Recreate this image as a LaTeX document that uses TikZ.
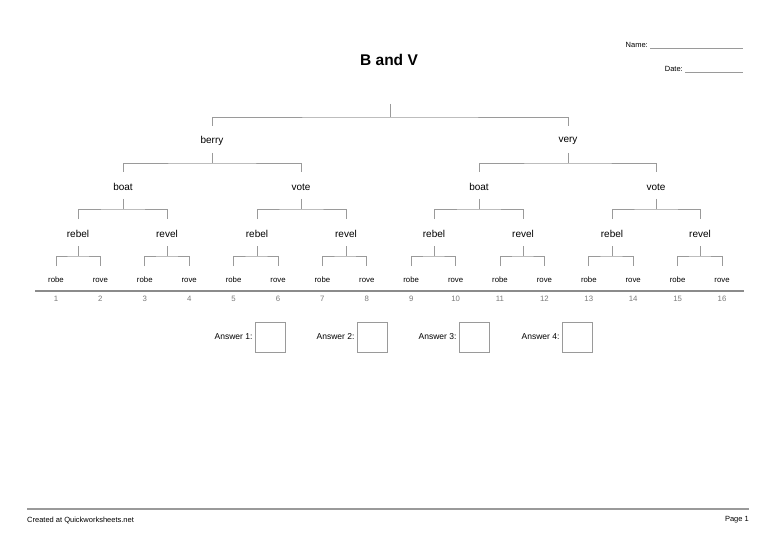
\documentclass[tikz,border=0pt]{standalone}
\usepackage{fontspec}
\setmainfont{Liberation Sans}
\usetikzlibrary{calc}
\definecolor{ln}{HTML}{9A9A9A}
\definecolor{num}{HTML}{7A7A7A}
\tikzset{
  lvl/.style={font=\fontsize{10}{12}\selectfont, inner sep=0pt},
  leaf/.style={font=\fontsize{7.8}{9}\selectfont, inner sep=0pt},
  numlab/.style={font=\fontsize{7.8}{9}\selectfont, text=num, inner sep=0pt},
  tline/.style={draw=ln, line width=0.8pt},
  small/.style={font=\fontsize{7.5}{9}\selectfont, inner sep=0pt},
  ansbox/.style={draw=ln, line width=0.8pt, minimum width=30pt, minimum height=30pt, inner sep=0pt},
  anslab/.style={font=\fontsize{8.5}{10}\selectfont, inner sep=0pt, anchor=east},
}
\newcommand{\brk}[4]{% parent, child1, child2, child offset
  \draw[tline] ($(#1)+(0,12)$) -- ($(#1)+(0,22)$);
  \draw[tline] ($(#2)+(0,-#4)$) |- ($(#1)+(0,22)$) -| ($(#3)+(0,-#4)$);
}
\begin{document}
\begin{tikzpicture}[x=1pt,y=-1pt]
\useasboundingbox (0,0) rectangle (776,548);
\fill[white] (0,0) rectangle (776,548);
% header
\node[font=\bfseries\fontsize{15.5}{18}\selectfont, inner sep=0pt] (title) at (389,60) {B and V};
\node[small, anchor=east] (name) at (648,45) {Name:};
\coordinate (nameend) at (743,48);
\draw[draw=ln, line width=0.6pt] ($(name.east)+(2,3)$) -- (nameend);
\node[small, anchor=east] (date) at (683,69) {Date:};
\coordinate (dateend) at (743,72);
\draw[draw=ln, line width=0.6pt] ($(date.east)+(2,3)$) -- (dateend);
% tree
\coordinate (root) at (390,90);
\node[lvl] (b) at (212,141) {berry};
\node[lvl] (v) at (568,141) {very};
\node[lvl] (bb) at (123,187) {boat};
\node[lvl] (bv) at (301,187) {vote};
\node[lvl] (vb) at (479,187) {boat};
\node[lvl] (vv) at (656,187) {vote};
\foreach \i/\w/\x in {1/rebel/78,2/revel/167,3/rebel/257,4/revel/346,5/rebel/434,6/revel/523,7/rebel/612,8/revel/700}{
  \node[lvl] (r\i) at (\x,234) {\w};
}
\foreach \i in {1,...,16}{
  \pgfmathsetmacro{\xx}{56+(\i-1)*44.4}
  \ifodd\i
    \node[leaf] (l\i) at (\xx,280) {robe};
  \else
    \node[leaf] (l\i) at (\xx,280) {rove};
  \fi
  \node[numlab] (n\i) at (\xx,299) {\i};
}
\draw[tline] ($(root)+(0,14)$) -- ($(root)+(0,27)$);
\draw[tline] ($(b)+(0,-15)$) |- ($(root)+(0,27)$) -| ($(v)+(0,-15)$);
\brk{b}{bb}{bv}{15}
\brk{v}{vb}{vv}{15}
\brk{bb}{r1}{r2}{15}
\brk{bv}{r3}{r4}{15}
\brk{vb}{r5}{r6}{15}
\brk{vv}{r7}{r8}{15}
\foreach \p in {1,...,8}{
  \pgfmathtruncatemacro{\a}{2*\p-1}
  \pgfmathtruncatemacro{\c}{2*\p}
  \brk{r\p}{l\a}{l\c}{14}
}
\coordinate (axl) at (35,291);
\coordinate (axr) at (744,291);
\draw[draw=ln!90!black, line width=1.3pt] (axl) -- (axr);
% answers
\foreach \k/\bx in {1/270,2/372,3/474,4/577}{
  \node[ansbox] (box\k) at (\bx,337) {};
  \node[anslab] (al\k) at ($(box\k.west)+(-2,0)$) {Answer \k:};
}
% footer
\coordinate (fl) at (27,509);
\coordinate (fr) at (749,509);
\draw[draw=ln, line width=1.2pt] (fl) -- (fr);
\node[small, anchor=west] (created) at (27,520) {Created at Quickworksheets.net};
\node[small, anchor=east] (page) at (749,520) {Page 1};
\end{tikzpicture}
\end{document}
